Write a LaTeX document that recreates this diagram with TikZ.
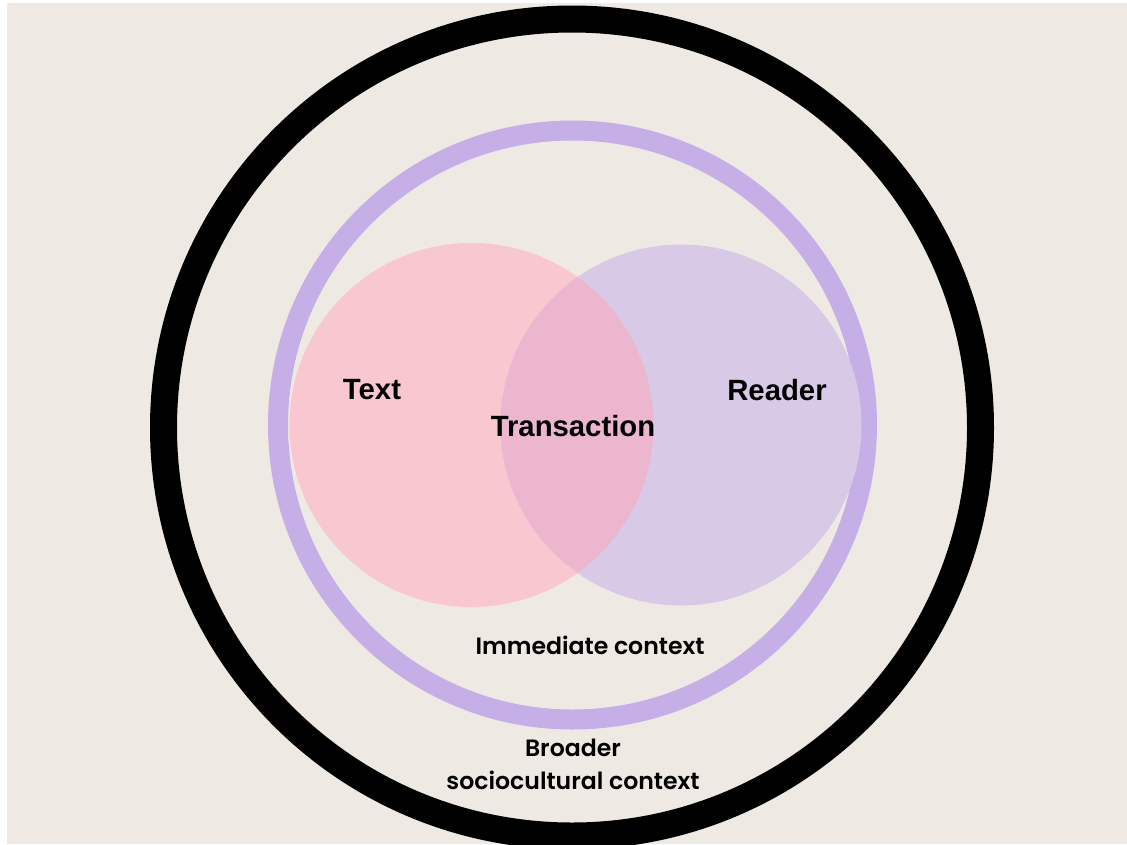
\documentclass[tikz,border=0pt]{standalone}
\usepackage{fontspec}
\setmainfont{Liberation Sans}
\newfontfamily\ctxfont{Poppins}[UprightFont=*-SemiBold]
\definecolor{paper}{HTML}{EEEAE3}
\definecolor{textpink}{HTML}{F8C7CF}
\definecolor{readerlilac}{HTML}{D8CAE6}
\definecolor{overlapmix}{HTML}{EDB6CF}
\definecolor{ringlilac}{HTML}{C6AEE6}
\tikzset{
  bigword/.style={font=\fontsize{29.3}{32}\selectfont\bfseries, text=black, inner sep=0pt},
  ctxword/.style={font=\ctxfont\fontsize{23.6}{32}\selectfont, text=black, inner sep=0pt, align=center},
}
\begin{document}
\begin{tikzpicture}[x=1pt,y=-1pt]
  % canvas: white page with the paper-coloured panel
  \fill[white] (0,0) rectangle (1127,844);
  \useasboundingbox (0,0) rectangle (1127,844);
  \clip (0,0) rectangle (1127,844);
  \fill[paper] (7,3) rectangle (1127,844);

  % outer context ring
  \draw[line width=27pt, black] (572,427.5) circle[radius=408.5];
  % immediate context ring
  \draw[line width=20pt, ringlilac] (572.5,425) circle[radius=294.5];

  % Venn circles
  \fill[textpink] (471.5,425) circle[radius=182];
  \fill[readerlilac] (681,425) circle[radius=180.5];
  \begin{scope}
    \clip (471.5,425) circle[radius=182];
    \fill[overlapmix] (681,425) circle[radius=180.5];
  \end{scope}

  % labels
  \node[bigword] (text) at (372,390) {Text};
  \node[bigword] (reader) at (777,390) {Reader};
  \node[bigword] (trans) at (573,426) {Transaction};
  \node[ctxword] (immediate) at (590,645) {Immediate context};
  \node[ctxword] (broader) at (573,748) {Broader};
  \node[ctxword] (socio) at (573,780) {sociocultural context};
\end{tikzpicture}
\end{document}
